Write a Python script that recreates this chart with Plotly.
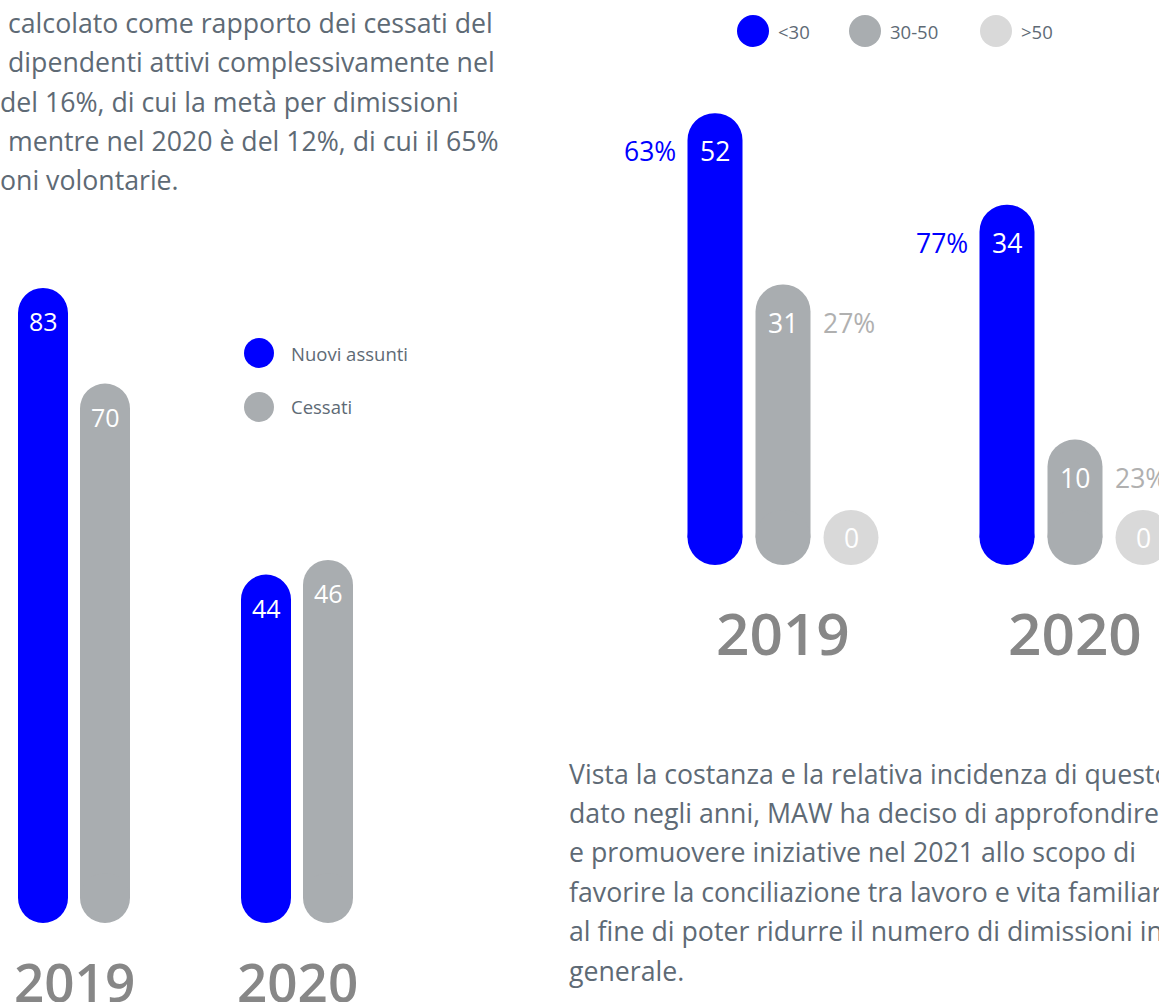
import plotly.graph_objects as go

W, H = 1159, 1002

# ---------------- data ----------------
years = ["2019", "2020"]
hire_series = ["Nuovi assunti", "Cessati"]
hires = [83, 44]
leavers = [70, 46]

age_classes = ["<30", "30-50", ">50"]
leavers_age_2019 = [52, 31, 0]
leavers_age_2020 = [34, 10, 0]
pct_age_2019 = ["63%", "27%", ""]
pct_age_2020 = ["77%", "23%", ""]

text_left = [
    "calcolato come rapporto dei cessati del",
    "dipendenti attivi complessivamente nel",
    "del 16%, di cui la metà per dimissioni",
    "mentre nel 2020 è del 12%, di cui il 65%",
    "oni volontarie.",
]
text_right = [
    "Vista la costanza e la relativa incidenza di questo",
    "dato negli anni, MAW ha deciso di approfondire",
    "e promuovere iniziative nel 2021 allo scopo di",
    "favorire la conciliazione tra lavoro e vita familiare",
    "al fine di poter ridurre il numero di dimissioni in",
    "generale.",
]

# ---------------- style ----------------
BLUE = "#0000ff"
GRAY = "#a9adb0"
LIGHT = "#d9d9d9"
TXT = "#5e6a75"
YEAR_C = "#878787"
PCT_GRAY = "#b0b0b0"
FONT = "Open Sans"

# left chart geometry (pixels)
L_X0, L_GROUP, L_OFF, L_BW = 74, 223, 31, 50
L_BASE, L_SCALE = 898, 7.35
# right chart geometry (pixels)
R_X0, R_GROUP, R_OFF, R_BW = 783, 292, 68, 55
R_BASE = 537.5
R_SCALE = [8.16, 9.79]

fig = go.Figure()
annotations = []
shapes = []

# ---------------- left chart ----------------
left_colors = [BLUE, GRAY]
for j, (name, vals) in enumerate(zip(hire_series, [hires, leavers])):
    sgn = -1 if j == 0 else 1
    xs = [i + sgn * L_OFF / L_GROUP for i in range(len(years))]
    fig.add_trace(go.Bar(x=xs, y=vals, width=L_BW / L_GROUP, name=name,
                         marker=dict(color=left_colors[j], cornerradius="50%", line=dict(width=0)),
                         xaxis="x", yaxis="y", showlegend=False, hoverinfo="skip"))
    fig.add_trace(go.Scatter(x=xs, y=[0] * len(xs), mode="markers",
                             marker=dict(size=L_BW, color=left_colors[j], line=dict(width=0)),
                             xaxis="x", yaxis="y", showlegend=False, hoverinfo="skip"))
    for x, v in zip(xs, vals):
        annotations.append(dict(x=x, y=v, xref="x", yref="y", text=str(v), showarrow=False,
                                yshift=-33, font=dict(family=FONT, size=25, color="white")))

for i, yr in enumerate(years):
    annotations.append(dict(x=i, y=1 - 981 / H, xref="x", yref="paper", text=yr, showarrow=False,
                            yanchor="middle", font=dict(family=FONT, size=53, color=YEAR_C, weight=600)))

# left legend
for k, (name, col) in enumerate(zip(hire_series, left_colors)):
    cy = 353 + 54 * k
    shapes.append(dict(type="circle", xref="paper", yref="paper", xsizemode="pixel", ysizemode="pixel",
                       xanchor=259 / W, yanchor=1 - cy / H, x0=-15, x1=15, y0=-15, y1=15,
                       fillcolor=col, line=dict(width=0)))
    annotations.append(dict(x=289 / W, y=1 - cy / H, xref="paper", yref="paper", text=name,
                            xanchor="left", yanchor="middle", showarrow=False,
                            font=dict(family=FONT, size=18.5, color=TXT)))

# ---------------- right chart ----------------
age_colors = [BLUE, GRAY, LIGHT]
pct_colors = [BLUE, PCT_GRAY, PCT_GRAY]
right_vals = [leavers_age_2019, leavers_age_2020]
right_pct = [pct_age_2019, pct_age_2020]
yaxes = ["y2", "y3"]
for i, yr in enumerate(years):
    ya = yaxes[i]
    for j, cls in enumerate(age_classes):
        x = i + (j - 1) * R_OFF / R_GROUP
        v = right_vals[i][j]
        fig.add_trace(go.Bar(x=[x], y=[v], width=R_BW / R_GROUP, name=cls,
                             marker=dict(color=age_colors[j], cornerradius="50%", line=dict(width=0)),
                             xaxis="x2", yaxis=ya, showlegend=False, hoverinfo="skip"))
        fig.add_trace(go.Scatter(x=[x], y=[0], mode="markers",
                                 marker=dict(size=R_BW, color=age_colors[j], line=dict(width=0)),
                                 xaxis="x2", yaxis=ya, showlegend=False, hoverinfo="skip"))
        ys = -38 if v > 0 else 0
        annotations.append(dict(x=x, y=v, xref="x2", yref=ya, text=str(v), showarrow=False,
                                yshift=ys, font=dict(family=FONT, size=26.5, color="white")))
        p = right_pct[i][j]
        if p:
            if j == 0:
                annotations.append(dict(x=x, y=v, xref="x2", yref=ya, text=p, showarrow=False,
                                        xanchor="right", xshift=-(R_BW / 2 + 10), yshift=ys,
                                        font=dict(family=FONT, size=26.5, color=pct_colors[j])))
            else:
                annotations.append(dict(x=x, y=v, xref="x2", yref=ya, text=p, showarrow=False,
                                        xanchor="left", xshift=(R_BW / 2 + 10), yshift=ys,
                                        font=dict(family=FONT, size=26.5, color=pct_colors[j])))
    annotations.append(dict(x=i, y=1 - 632 / H, xref="x2", yref="paper", text=yr, showarrow=False,
                            yanchor="middle", font=dict(family=FONT, size=58.5, color=YEAR_C, weight=600)))

# right legend
leg_cx = [753, 865, 996]
for k, (cls, col) in enumerate(zip(age_classes, age_colors)):
    shapes.append(dict(type="circle", xref="paper", yref="paper", xsizemode="pixel", ysizemode="pixel",
                       xanchor=leg_cx[k] / W, yanchor=1 - 31 / H, x0=-16, x1=16, y0=-16, y1=16,
                       fillcolor=col, line=dict(width=0)))
    annotations.append(dict(x=(leg_cx[k] + 23) / W, y=1 - 31 / H, xref="paper", yref="paper", text=cls,
                            xanchor="left", yanchor="middle", showarrow=False,
                            font=dict(family=FONT, size=18.5, color=TXT)))

# ---------------- paragraphs ----------------
left_x = [6, 6, -2, 6, -2]
for k, line in enumerate(text_left):
    annotations.append(dict(x=left_x[k] / W, y=1 - (22 + 39.5 * k) / H, xref="paper", yref="paper",
                            text=line, xanchor="left", yanchor="middle", showarrow=False,
                            font=dict(family=FONT, size=26.7, color=TXT)))
for k, line in enumerate(text_right):
    annotations.append(dict(x=567 / W, y=1 - (773 + 39.4 * k) / H, xref="paper", yref="paper",
                            text=line, xanchor="left", yanchor="middle", showarrow=False,
                            font=dict(family=FONT, size=26.7, color=TXT)))

ax_common = dict(visible=False, fixedrange=True, showgrid=False, zeroline=False)
fig.update_layout(
    width=W, height=H, margin=dict(l=0, r=0, t=0, b=0),
    paper_bgcolor="white", plot_bgcolor="rgba(0,0,0,0)",
    barmode="overlay", showlegend=False,
    xaxis=dict(domain=[0, 1], range=[-L_X0 / L_GROUP, (W - L_X0) / L_GROUP], anchor="y", **ax_common),
    yaxis=dict(domain=[0, 1], range=[-(H - L_BASE) / L_SCALE, L_BASE / L_SCALE], anchor="x", **ax_common),
    xaxis2=dict(domain=[0, 1], range=[-R_X0 / R_GROUP, (W - R_X0) / R_GROUP], anchor="y2", **ax_common),
    yaxis2=dict(domain=[0, 1], range=[-(H - R_BASE) / R_SCALE[0], R_BASE / R_SCALE[0]], anchor="x2", **ax_common),
    yaxis3=dict(domain=[0, 1], range=[-(H - R_BASE) / R_SCALE[1], R_BASE / R_SCALE[1]], anchor="x2",
                overlaying="y2", **ax_common),
    annotations=annotations, shapes=shapes,
)

fig.write_html("out.html", config={"displayModeBar": False},
               post_script="document.body.style.margin='0';document.body.style.overflow='hidden';")
